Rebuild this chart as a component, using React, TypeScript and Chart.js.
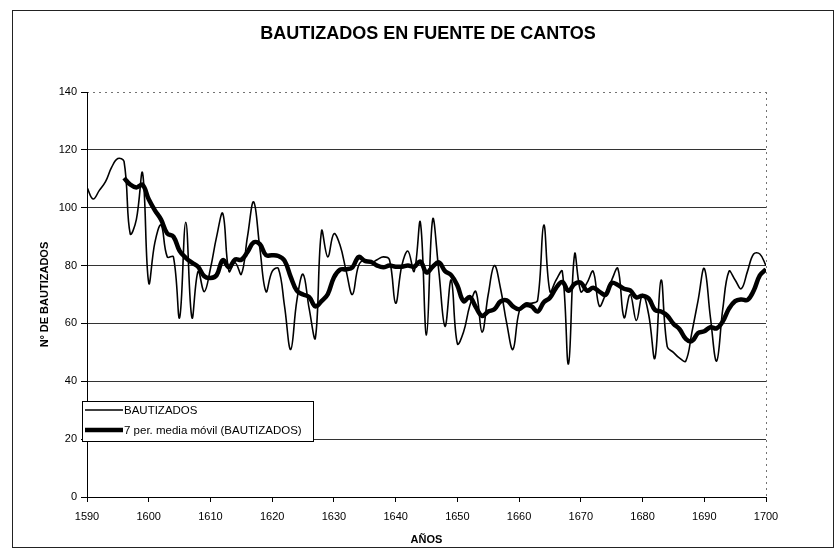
import React, { useEffect, useRef } from 'react';
import { Chart, registerables } from 'chart.js';

Chart.register(...registerables);

const TITLE = 'BAUTIZADOS EN FUENTE DE CANTOS';
const Y_TITLE = 'Nº DE BAUTIZADOS';
const X_TITLE = 'AÑOS';
const SERIES_NAMES = ['BAUTIZADOS', '7 per. media móvil (BAUTIZADOS)'];

const FIRST_YEAR = 1590;
const BAUTIZADOS = [
  107, 103, 106, 109, 114, 117, 116, 91, 96, 112,
  74, 88, 94, 83, 83, 62, 95, 62, 78, 71,
  79, 90, 98, 78, 81, 77, 90, 102, 86, 71,
  78, 79, 66, 51, 68, 77, 65, 55, 92, 83,
  91, 87, 78, 70, 80, 82, 81, 82, 83, 82,
  67, 80, 85, 78, 95, 56, 96, 78, 59, 75,
  53, 57, 66, 71, 57, 70, 80, 72, 60, 51,
  64, 67, 67, 68, 94, 71, 75, 78, 46, 84,
  71, 74, 78, 66, 70, 75, 79, 62, 70, 61,
  70, 63, 48, 75, 52, 50, 48, 47, 57, 68,
  79, 62, 47, 65, 78, 75, 72, 78, 84, 84,
  80,
];

const MA_FIRST_YEAR = 1596;
const MEDIA_MOVIL = [
  110.3, 108.0, 107.0, 107.9, 102.9, 99.1, 95.9, 91.1, 90.0, 85.1,
  82.7, 81.0, 79.6, 76.3, 75.7, 76.7, 81.9, 79.4, 82.1, 82.0,
  84.7, 88.0, 87.4, 83.6, 83.6, 83.3, 81.7, 76.1, 71.3, 70.0,
  69.1, 65.9, 67.7, 70.1, 75.9, 78.6, 78.7, 79.4, 83.0, 81.6,
  81.3, 80.0, 79.4, 80.0, 79.6, 79.6, 80.0, 79.6, 81.4, 77.6,
  79.6, 81.1, 78.1, 76.7, 73.1, 67.7, 69.1, 65.6, 62.6, 64.1,
  64.9, 67.6, 68.0, 65.9, 64.9, 66.3, 65.9, 64.1, 67.3, 68.9,
  72.3, 74.3, 71.3, 73.7, 74.1, 71.3, 72.3, 71.0, 69.9, 74.0,
  73.3, 72.0, 71.4, 69.0, 69.6, 68.6, 64.7, 64.1, 62.7, 59.9,
  58.0, 54.7, 53.9, 56.7, 57.3, 58.7, 58.3, 60.7, 65.1, 67.7,
  68.3, 68.1, 71.3, 76.6, 78.7,
];

const X_MIN = 1590;
const X_MAX = 1700;
const X_STEP = 10;
const Y_MIN = 0;
const Y_MAX = 140;
const Y_STEP = 20;

const FONT = '"Liberation Sans", Arial, Helvetica, sans-serif';

const overlayPlugin = {
  id: 'overlay',
  beforeDatasetsDraw(chart: any) {
    const { ctx, chartArea } = chart;
    ctx.save();
    ctx.strokeStyle = 'rgba(0,0,0,0.55)';
    ctx.lineWidth = 1;
    ctx.setLineDash([2, 4]);
    ctx.beginPath();
    ctx.moveTo(chartArea.left, chartArea.top + 0.5);
    ctx.lineTo(chartArea.right, chartArea.top + 0.5);
    ctx.moveTo(chartArea.right + 0.5, chartArea.top);
    ctx.lineTo(chartArea.right + 0.5, chartArea.bottom);
    ctx.stroke();
    ctx.restore();
  },
  afterDraw(chart: any) {
    const { ctx, chartArea } = chart;
    ctx.save();
    ctx.fillStyle = '#000';
    // Title
    ctx.font = `bold 18px ${FONT}`;
    ctx.textAlign = 'center';
    ctx.textBaseline = 'middle';
    ctx.fillText(TITLE, 415, 23);
    // X title
    ctx.font = `bold 11px ${FONT}`;
    ctx.fillText(X_TITLE, (chartArea.left + chartArea.right) / 2, 529);
    // Y title
    ctx.save();
    ctx.translate(32, (chartArea.top + chartArea.bottom) / 2);
    ctx.rotate(-Math.PI / 2);
    ctx.font = `bold 11px ${FONT}`;
    ctx.fillText(Y_TITLE, 0, 0);
    ctx.restore();

    // Legend
    const lx = 69, ly = 390, lw = 231, lh = 40;
    ctx.fillStyle = '#fff';
    ctx.fillRect(lx, ly, lw, lh);
    ctx.strokeStyle = '#000';
    ctx.lineWidth = 1;
    ctx.strokeRect(lx + 0.5, ly + 0.5, lw, lh);
    ctx.font = `11.5px ${FONT}`;
    ctx.textAlign = 'left';
    ctx.textBaseline = 'middle';
    const rows = [
      { y: ly + 9, w: 1.6 },
      { y: ly + 29, w: 4.5 },
    ];
    rows.forEach((r, i) => {
      ctx.strokeStyle = '#000';
      ctx.lineWidth = r.w;
      ctx.beginPath();
      ctx.moveTo(lx + 3, r.y);
      ctx.lineTo(lx + 41, r.y);
      ctx.stroke();
      ctx.fillStyle = '#000';
      ctx.fillText(SERIES_NAMES[i], lx + 42, r.y + 0.5);
    });
    ctx.restore();
  },
};

export default function App() {
  const canvasRef = useRef<HTMLCanvasElement | null>(null);

  useEffect(() => {
    const canvas = canvasRef.current;
    if (!canvas) return;
    const thin = BAUTIZADOS.map((v, i) => ({ x: FIRST_YEAR + i, y: v }));
    const thick = MEDIA_MOVIL.map((v, i) => ({ x: MA_FIRST_YEAR + i, y: v }));

    const chart = new Chart(canvas, {
      type: 'line',
      data: {
        datasets: [
          {
            label: SERIES_NAMES[0],
            data: thin,
            borderColor: '#000',
            borderWidth: 1.6,
            pointRadius: 0,
            tension: 0.4,
            fill: false,
            order: 1,
          },
          {
            label: SERIES_NAMES[1],
            data: thick,
            borderColor: '#000',
            borderWidth: 4.5,
            pointRadius: 0,
            tension: 0.4,
            fill: false,
            order: 0,
          },
        ],
      },
      options: {
        animation: false,
        responsive: false,
        devicePixelRatio: 1,
        parsing: false as any,
        layout: { padding: { top: 81, left: 0, right: 67, bottom: 0 } },
        plugins: {
          legend: { display: false },
          tooltip: { enabled: false },
          title: { display: false },
        },
        scales: {
          x: {
            type: 'linear',
            min: X_MIN,
            max: X_MAX,
            afterFit: (scale: any) => {
              scale.height = 50;
            },
            ticks: {
              stepSize: X_STEP,
              padding: 8,
              color: '#000',
              font: { family: FONT, size: 11 },
              callback: (v: any) => String(v),
              maxRotation: 0,
            },
            grid: {
              drawOnChartArea: false,
              drawTicks: true,
              tickLength: 5,
              tickColor: '#000',
            },
            border: { display: true, color: '#000', width: 1 },
          },
          y: {
            type: 'linear',
            min: Y_MIN,
            max: Y_MAX,
            afterFit: (scale: any) => {
              scale.width = 74;
            },
            ticks: {
              stepSize: Y_STEP,
              padding: 4,
              color: '#000',
              font: { family: FONT, size: 11 },
              callback: (v: any) => String(v),
            },
            grid: {
              drawOnChartArea: true,
              drawTicks: true,
              tickLength: 6,
              tickColor: '#000',
              color: (c: any) =>
                c.tick && (c.tick.value === Y_MAX || c.tick.value === Y_MIN) ? 'rgba(0,0,0,0)' : '#333',
              lineWidth: 1,
            },
            border: { display: true, color: '#000', width: 1 },
          },
        },
      },
      plugins: [overlayPlugin],
    });
    return () => chart.destroy();
  }, []);

  return (
    <div
      style={{
        position: 'absolute',
        left: 12,
        top: 10,
        width: 822,
        height: 538,
        boxSizing: 'border-box',
        border: '1px solid #222',
        background: '#fff',
      }}
    >
      <canvas ref={canvasRef} width={820} height={536} style={{ display: 'block', width: 820, height: 536 }} />
    </div>
  );
}
